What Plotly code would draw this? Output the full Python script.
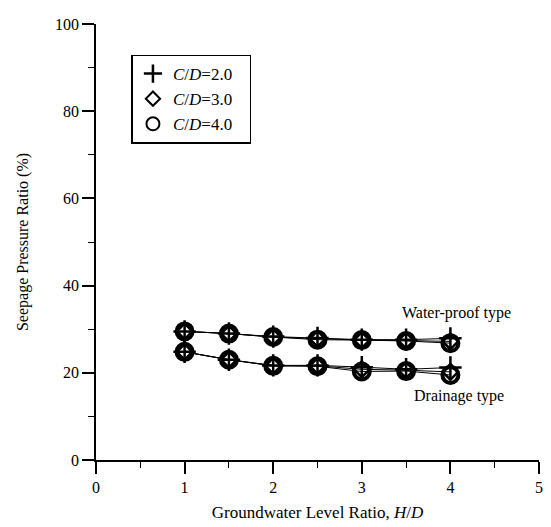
import plotly.graph_objects as go

# Groundwater level ratio H/D
hd = [1.0, 1.5, 2.0, 2.5, 3.0, 3.5, 4.0]

# Seepage pressure ratio (%) - water-proof type
wp_cd2 = [29.5, 29.0, 28.3, 28.0, 27.6, 27.6, 27.9]
wp_cd3 = [29.5, 29.0, 28.2, 27.8, 27.5, 27.4, 27.2]
wp_cd4 = [29.5, 29.0, 28.2, 27.6, 27.5, 27.3, 26.8]

# Seepage pressure ratio (%) - drainage type
dr_cd2 = [24.8, 23.0, 21.7, 21.7, 21.3, 20.8, 21.2]
dr_cd3 = [24.8, 23.0, 21.6, 21.6, 20.8, 20.6, 20.2]
dr_cd4 = [24.8, 23.0, 21.6, 21.5, 20.3, 20.4, 19.5]

labels = ["<i>C</i>/<i>D</i>=2.0", "<i>C</i>/<i>D</i>=3.0", "<i>C</i>/<i>D</i>=4.0"]
symbols = ["cross-thin", "diamond-open", "circle-open"]
sizes = [16, 12, 16]
mlw = [2.5, 2.5, 4.0]
leg_sizes = [13, 11, 13]
leg_lw = [2.5, 2.0, 2.0]

FONT = "Liberation Serif"
fig = go.Figure()

for i, (wp, dr) in enumerate([(wp_cd2, dr_cd2), (wp_cd3, dr_cd3), (wp_cd4, dr_cd4)]):
    for ys in (wp, dr):
        fig.add_trace(go.Scatter(
            x=hd, y=ys, mode="lines+markers",
            name=labels[i], legendgroup=labels[i], showlegend=False,
            line=dict(color="black", width=1),
            marker=dict(symbol=symbols[i], size=sizes[i], color="black",
                        line=dict(color="black", width=mlw[i])),
        ))
    # legend entry (marker only)
    fig.add_trace(go.Scatter(
        x=[None], y=[None], mode="markers", name=labels[i] + "&nbsp;&nbsp;&nbsp;",
        legendgroup=labels[i], showlegend=True,
        marker=dict(symbol=symbols[i], size=leg_sizes[i], color="black",
                    line=dict(color="black", width=leg_lw[i])),
    ))

fig.add_annotation(x=4.07, y=33.8, text="Water-proof type", showarrow=False,
                   font=dict(family=FONT, size=16, color="black"))
fig.add_annotation(x=4.1, y=14.6, text="Drainage type", showarrow=False,
                   font=dict(family=FONT, size=16, color="black"))

axis_common = dict(
    showline=True, linecolor="black", linewidth=1.5, mirror=False,
    ticks="outside", ticklen=12, tickwidth=1.5, tickcolor="black",
    showgrid=False, zeroline=False,
    tickfont=dict(family=FONT, size=16, color="black"),
)

fig.update_xaxes(range=[0, 5], dtick=1, tick0=0,
                 minor=dict(dtick=0.5, ticklen=6, ticks="outside", tickcolor="black", tickwidth=1.2),
                 title=dict(text="Groundwater Level Ratio, <i>H</i>/<i>D</i>",
                            font=dict(family=FONT, size=17, color="black"), standoff=11),
                 **axis_common)
fig.update_yaxes(range=[0, 100], dtick=20, tick0=0,
                 minor=dict(dtick=10, ticklen=6, ticks="outside", tickcolor="black", tickwidth=1.2),
                 title=dict(text="Seepage Pressure Ratio (%)",
                            font=dict(family=FONT, size=16, color="black"), standoff=22),
                 **axis_common)

# page body has an 8px margin: size the figure so the plot lands at the reference positions
fig.update_layout(
    width=543, height=519,
    margin=dict(l=88, r=8, t=9, b=65),
    paper_bgcolor="white", plot_bgcolor="white",
    font=dict(family=FONT, size=15, color="black"),
    legend=dict(x=0.08, y=0.93, xanchor="left", yanchor="top",
                bordercolor="black", borderwidth=1.5, bgcolor="white",
                font=dict(family=FONT, size=17, color="black"),
                tracegroupgap=0, itemwidth=30),
)

fig.write_html("out.html")
